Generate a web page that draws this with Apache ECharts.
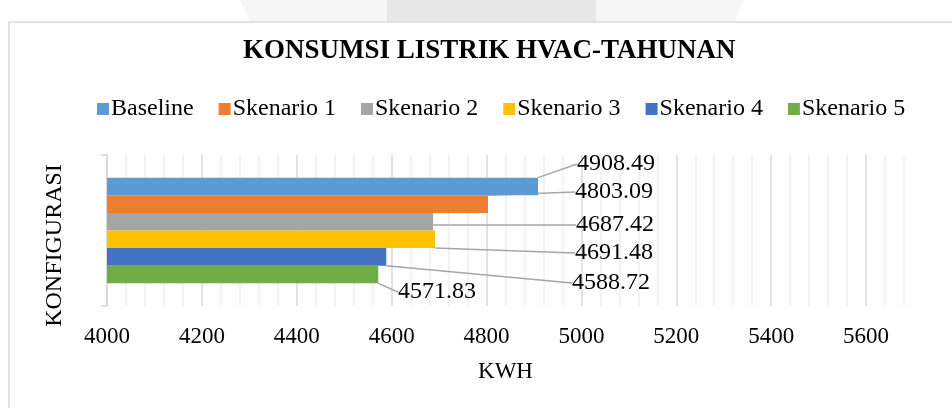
<!DOCTYPE html>
<html>
<head>
<meta charset="utf-8">
<script src="https://cdn.jsdelivr.net/npm/echarts@6/dist/echarts.min.js"></script>
<style>
  html, body { margin: 0; padding: 0; background: #fff; }
  #chart { width: 952px; height: 408px; }
</style>
</head>
<body>
<div id="chart"></div>
<script>
/* ---------------- DATA ---------------- */

const CATEGORIES = [""];
const SERIES_NAMES = ["Baseline", "Skenario 1", "Skenario 2", "Skenario 3", "Skenario 4", "Skenario 5"];
const SERIES_VALUES = [4908.49, 4803.09, 4687.42, 4691.48, 4588.72, 4571.83];
const X_TICKS = [4000, 4200, 4400, 4600, 4800, 5000, 5200, 5400, 5600];

const COLORS = [
  "#5B9BD5", // baseline blue
  "#ED7D31", // orange
  "#A5A5A5", // grey
  "#FFC000", // yellow
  "#4472C4", // dark blue
  "#70AD47", // green
];

// where the moved data labels sit (left edge, vertical middle)
const LABEL_POS = [
  [577, 164],
  [575, 192],
  [576, 225],
  [575, 253],
  [572, 283],
  [398, 292],
];

const FONT = "'Liberation Serif', 'Times New Roman', serif";

/* ---------------- CHART ---------------- */

const chart = echarts.init(document.getElementById("chart"), null, { renderer: "canvas" });

const option = {
  animation: false,
  color: COLORS,
  textStyle: { fontFamily: FONT, color: "#000" },

  graphic: [
    // faint watermark at the very top
    { type: "polygon", shape: { points: [[240, 0], [744, 0], [735, 22], [250, 22]] }, style: { fill: "#f7f7f7" }, silent: true },
    { type: "rect", shape: { x: 387, y: 0, width: 209, height: 22 }, style: { fill: "#e8e8e9" }, silent: true },
    // chart frame
    { type: "rect", shape: { x: 9, y: 22, width: 1000, height: 500 }, style: { fill: null, stroke: "#d9d9d9", lineWidth: 1.5 }, silent: true },
  ],

  title: {
    text: "KONSUMSI LISTRIK HVAC-TAHUNAN",
    left: 238,
    top: 33,
    textStyle: { fontFamily: FONT, fontWeight: "bold", fontSize: 27, color: "#000" },
  },

  legend: {
    top: 92,
    left: 92,
    icon: "rect",
    itemWidth: 12,
    itemHeight: 12,
    itemGap: 25,
    textStyle: { fontFamily: FONT, fontSize: 24, color: "#000", padding: [0, 0, 0, -3] },
  },

  grid: {
    left: 107,
    right: 48,
    top: 155,
    bottom: 102,
  },

  xAxis: {
    type: "value",
    min: X_TICKS[0],
    max: 5680,
    interval: 200,
    name: "KWH",
    nameLocation: "middle",
    nameGap: 54,
    nameTextStyle: { fontFamily: FONT, fontSize: 23, color: "#000" },
    axisLine: { show: false },
    axisTick: { show: false },
    axisLabel: {
      margin: 19,
      fontFamily: FONT,
      fontSize: 23,
      color: "#000",
      showMaxLabel: false,
      formatter: (v) => (X_TICKS.includes(v) ? String(v) : ""),
    },
    splitLine: {
      show: true,
      lineStyle: {
        color: ["#d9d9d9", "#d9d9d9", "#d9d9d9", "#d9d9d9", "#d9d9d9", "#d9d9d9", "#d9d9d9", "#d9d9d9", "#d9d9d9", "#f0f0f0"],
        width: 1.5,
      },
    },
    minorTick: { show: false, splitNumber: 5 },
    minorSplitLine: { show: true, lineStyle: { color: "#f0f0f0", width: 1.5 } },
  },

  yAxis: {
    type: "category",
    data: CATEGORIES,
    name: "KONFIGURASI",
    nameLocation: "middle",
    nameGap: 40,
    nameTextStyle: { fontFamily: FONT, fontSize: 24, color: "#000", padding: [0, 30, 0, 0] },
    axisLine: { show: true, lineStyle: { color: "#d9d9d9", width: 1.5 } },
    axisTick: { show: true, length: 6, lineStyle: { color: "#d9d9d9", width: 1.5 } },
    axisLabel: { show: false },
    splitLine: { show: false },
  },

  series: SERIES_NAMES.map((name, i) => ({
    name,
    type: "bar",
    data: [SERIES_VALUES[i]],
    barGap: "0%",
    barCategoryGap: "30%",
    itemStyle: { color: COLORS[i] },
    label: {
      show: true,
      position: "right",
      fontFamily: FONT,
      fontSize: 24,
      color: "#000",
      formatter: (p) => p.value.toFixed(2),
    },
    labelLayout: () => ({
      x: LABEL_POS[i][0],
      y: LABEL_POS[i][1],
      align: "left",
      verticalAlign: "middle",
    }),
    labelLine: {
      show: true,
      lineStyle: { color: "#a6a6a6", width: 1.5 },
    },
  })),
};

chart.setOption(option);
</script>
</body>
</html>
